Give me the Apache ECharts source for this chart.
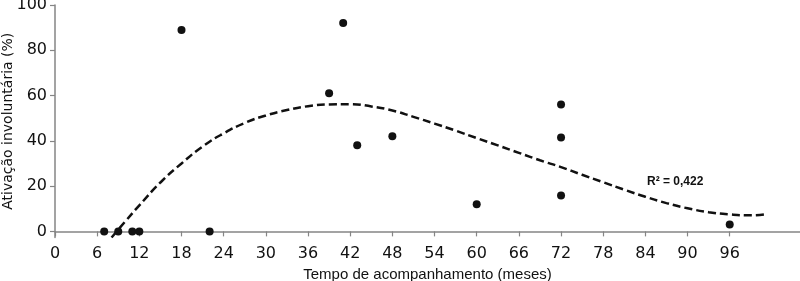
<!DOCTYPE html>
<html>
<head>
<meta charset="utf-8">
<script src="https://cdn.jsdelivr.net/npm/echarts@6/dist/echarts.min.js"></script>
<style>
  html, body { margin: 0; padding: 0; background: #fff; }
  #chart { width: 800px; height: 281px; }
</style>
</head>
<body>
<div id="chart"></div>
<script>
// pontos observados (meses, %)
var months = [7, 9, 11, 12, 18, 22, 39, 41, 43, 48, 60, 72, 72, 72, 96];
var activation = [0, 0, 0, 0, 89, 0, 61, 92, 38, 42, 12, 56, 41.5, 15.8, 3];

// curva de ajuste
var fitX = [8.05, 10, 12, 15, 18, 21, 24, 27, 30, 33, 36, 39, 42, 45, 48, 51, 54, 57, 60, 63, 66, 69, 72, 75, 78, 81, 84, 87, 90, 93, 96, 99, 101];
var fitY = [-2.7, 4.4, 11.5, 21.6, 30, 37.5, 43.3, 47.9, 51.2, 53.6, 55.3, 56.1, 56.2, 55.2, 53.4, 50.6, 47.6, 44.5, 41.2, 38, 34.7, 31.4, 28.4, 25, 21.7, 18.4, 15.3, 12.5, 10.2, 8.5, 7.5, 7.1, 7.5];

var xTicks = [0, 6, 12, 18, 24, 30, 36, 42, 48, 54, 60, 66, 72, 78, 84, 90, 96];
var yTicks = [0, 20, 40, 60, 80, 100];

var r2Label = 'R² = 0,422';

var myChart = echarts.init(document.getElementById('chart'));

var points = months.map(function (m, i) { return [m, activation[i]]; });
var fit = fitX.map(function (x, i) { return [x, fitY[i]]; });

var axisColor = '#858585';

var option = {
  animation: false,
  grid: { left: 55, right: 0, top: 5, bottom: 43.5, outerBoundsMode: 'none', containLabel: false },
  xAxis: {
    type: 'value',
    min: 0,
    max: 106,
    name: 'Tempo de acompanhamento (meses)',
    nameLocation: 'middle',
    nameGap: 30,
    nameTextStyle: { color: '#111', fontSize: 15, fontFamily: 'Liberation Sans' },
    axisLine: { show: true, lineStyle: { color: axisColor, width: 1.5 } },
    axisTick: { show: true, length: 5, customValues: xTicks, lineStyle: { color: axisColor, width: 1.2 } },
    axisLabel: { customValues: xTicks, color: '#111', fontSize: 16, fontFamily: 'DejaVu Sans', margin: 8 },
    splitLine: { show: false }
  },
  yAxis: {
    type: 'value',
    min: -2.7,
    max: 100,
    name: 'Ativação involuntária (%)',
    nameLocation: 'middle',
    nameGap: 40,
    nameMoveOverlap: false,
    nameTextStyle: { color: '#111', fontSize: 14, fontFamily: 'DejaVu Sans' },
    axisLine: { show: true, lineStyle: { color: axisColor, width: 1.5 } },
    axisTick: { show: true, length: 5, customValues: yTicks, lineStyle: { color: axisColor, width: 1.2 } },
    axisLabel: { customValues: yTicks, color: '#111', fontSize: 16, fontFamily: 'DejaVu Sans', margin: 8 },
    splitLine: { show: false }
  },
  series: [
    {
      type: 'line',
      data: fit,
      smooth: true,
      showSymbol: false,
      lineStyle: { color: '#111', width: 2.5, type: [8, 4] },
      z: 2
    },
    {
      type: 'scatter',
      data: points,
      symbolSize: 8,
      itemStyle: { color: '#111', opacity: 1 },
      z: 3
    }
  ],
  graphic: [
    {
      type: 'text',
      left: 647,
      top: 176,
      style: { text: r2Label, fill: '#111', font: 'bold 12px "Liberation Sans"' }
    }
  ]
};

myChart.setOption(option);
</script>
</body>
</html>
